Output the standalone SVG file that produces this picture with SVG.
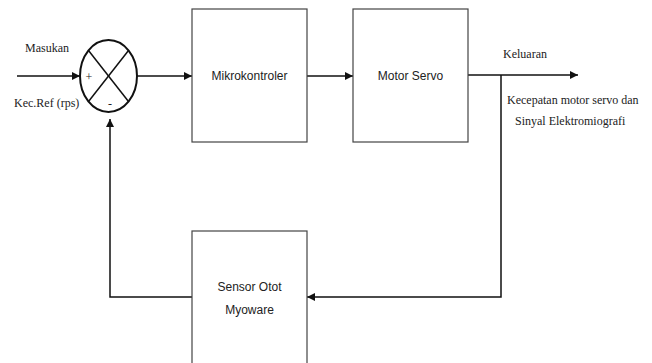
<svg xmlns="http://www.w3.org/2000/svg" width="652" height="363" viewBox="0 0 652 363">
<defs>
<style>
.box{fill:#fff;stroke:#444;stroke-width:1.2}
.ln{fill:none;stroke:#111;stroke-width:1.5}
.sans{font-family:"Liberation Sans","DejaVu Sans",sans-serif;font-size:12px;fill:#222;text-anchor:middle}
.serif{font-family:"Liberation Serif","Times New Roman",serif;font-size:12px;fill:#222}
</style>
<marker id="ah" viewBox="0 0 10 10" refX="10" refY="5" markerWidth="8" markerHeight="8" markerUnits="userSpaceOnUse" orient="auto">
<path d="M0,0 L10,5 L0,10 z" fill="#111"/>
</marker>
</defs>
<rect width="652" height="363" fill="#fff"/>
<g id="connectors">
<line class="ln" x1="17" y1="76" x2="80" y2="76" marker-end="url(#ah)"/>
<line class="ln" x1="137" y1="76" x2="192" y2="76" marker-end="url(#ah)"/>
<line class="ln" x1="307" y1="76" x2="353" y2="76" marker-end="url(#ah)"/>
<line class="ln" x1="468" y1="75" x2="578" y2="75" marker-end="url(#ah)"/>
<polyline class="ln" points="501,75 501,297 307,297" marker-end="url(#ah)"/>
<polyline class="ln" points="192,297 110,297 110,119" marker-end="url(#ah)"/>
</g>
<g id="sum">
<ellipse cx="108.5" cy="76" rx="28.5" ry="36" fill="#fff" stroke="#111" stroke-width="2"/>
<line class="ln" x1="88.5" y1="50.5" x2="128.5" y2="101.5" stroke-width="2"/>
<line class="ln" x1="128.5" y1="50.5" x2="88.5" y2="101.5" stroke-width="2"/>
<text class="serif" x="89" y="81" text-anchor="middle">+</text>
<text class="serif" x="110" y="108" text-anchor="middle">-</text>
</g>
<g id="labels">
<text class="serif" x="25" y="52">Masukan</text>
<text class="serif" x="14" y="107">Kec.Ref (rps)</text>
<text class="serif" x="503" y="58">Keluaran</text>
<text class="serif" x="507" y="104">Kecepatan motor servo dan</text>
<text class="serif" x="515" y="125">Sinyal Elektromiografi</text>
</g>
<g id="mikrokontroler">
<rect class="box" x="192" y="9" width="115" height="133"/>
<text class="sans" x="249.5" y="80">Mikrokontroler</text>
</g>
<g id="motor-servo">
<rect class="box" x="353" y="9" width="115" height="133"/>
<text class="sans" x="410.5" y="80">Motor Servo</text>
</g>
<g id="sensor">
<rect class="box" x="192" y="231" width="115" height="140"/>
<text class="sans" x="249.5" y="291">Sensor Otot</text>
<text class="sans" x="249.5" y="314">Myoware</text>
</g>
</svg>
